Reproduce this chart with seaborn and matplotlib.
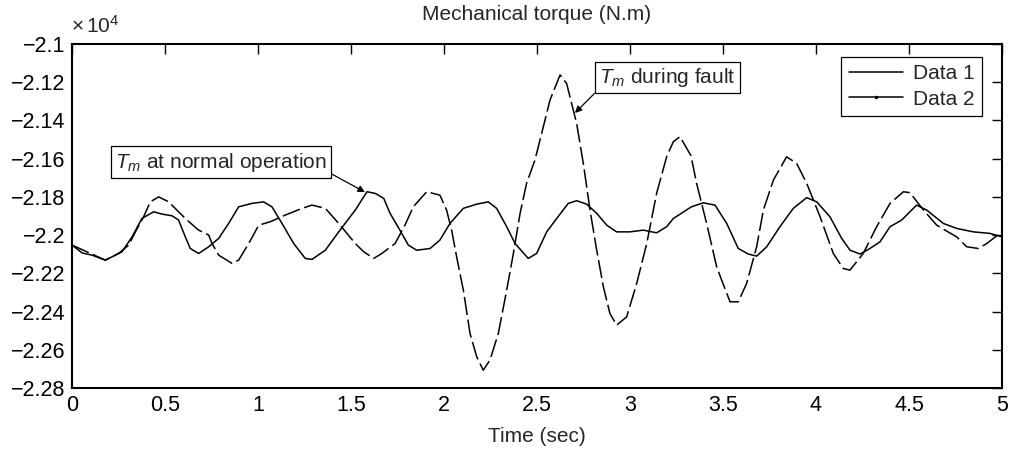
import matplotlib
matplotlib.use("Agg")
import matplotlib.pyplot as plt
from matplotlib.lines import Line2D
from matplotlib.ticker import FuncFormatter, MultipleLocator
import seaborn as sns
import pandas as pd

# ---- Data 1: torque at normal operation (N.m) ----
t1 = [0.000, 0.054, 0.108, 0.179, 0.233, 0.269, 0.323, 0.376, 0.439, 0.484,
      0.538, 0.573, 0.609, 0.636, 0.681, 0.735, 0.789, 0.842, 0.896, 0.968,
      1.030, 1.075, 1.129, 1.192, 1.254, 1.290, 1.362, 1.434, 1.523, 1.586,
      1.631, 1.676, 1.710, 1.763, 1.808, 1.853, 1.925, 1.978, 2.032, 2.104,
      2.176, 2.238, 2.283, 2.337, 2.382, 2.453, 2.498, 2.552, 2.606, 2.668,
      2.713, 2.767, 2.821, 2.875, 2.928, 3.000, 3.072, 3.143, 3.197, 3.233,
      3.330, 3.394, 3.457, 3.520, 3.582, 3.636, 3.681, 3.735, 3.806, 3.878,
      3.950, 4.004, 4.075, 4.138, 4.183, 4.237, 4.290, 4.344, 4.398, 4.461,
      4.541, 4.595, 4.685, 4.756, 4.846, 4.935, 5.000]
y1 = [-22052, -22093, -22105, -22131, -22105, -22087, -22009, -21913, -21878, -21890,
      -21899, -21921, -22009, -22070, -22096, -22061, -22017, -21939, -21852, -21834,
      -21826, -21852, -21939, -22044, -22122, -22127, -22079, -21983, -21869, -21773,
      -21782, -21808, -21886, -21974, -22052, -22079, -22070, -22026, -21939, -21860,
      -21838, -21826, -21860, -21956, -22044, -22122, -22096, -21983, -21913, -21834,
      -21820, -21838, -21886, -21948, -21983, -21983, -21974, -21988, -21956, -21913,
      -21852, -21831, -21843, -21939, -22070, -22099, -22110, -22061, -21956, -21860,
      -21804, -21826, -21904, -22017, -22079, -22099, -22070, -22035, -21956, -21921,
      -21843, -21869, -21939, -21965, -21983, -21991, -22009]

# ---- Data 2: torque during fault (N.m) ----
t2 = [0.000, 0.179, 0.251, 0.305, 0.341, 0.385, 0.421, 0.466, 0.520, 0.573,
      0.618, 0.681, 0.735, 0.753, 0.789, 0.860, 0.896, 0.950, 1.004, 1.066,
      1.147, 1.237, 1.290, 1.362, 1.434, 1.523, 1.568, 1.622, 1.666, 1.737,
      1.790, 1.835, 1.907, 1.978, 2.014, 2.041, 2.068, 2.104, 2.140, 2.176,
      2.211, 2.247, 2.292, 2.337, 2.373, 2.409, 2.444, 2.489, 2.534, 2.570,
      2.624, 2.659, 2.713, 2.749, 2.785, 2.821, 2.857, 2.892, 2.928, 2.982,
      3.036, 3.090, 3.143, 3.197, 3.233, 3.269, 3.328, 3.358, 3.412, 3.466,
      3.493, 3.538, 3.582, 3.627, 3.681, 3.717, 3.771, 3.842, 3.896, 3.950,
      4.022, 4.093, 4.147, 4.183, 4.254, 4.326, 4.398, 4.470, 4.505, 4.578,
      4.649, 4.694, 4.756, 4.810, 4.873, 4.918, 5.000]
y2 = [-22052, -22131, -22096, -22052, -21983, -21904, -21826, -21800, -21826, -21878,
      -21921, -21974, -22000, -22044, -22105, -22148, -22131, -22044, -21948, -21930,
      -21895, -21860, -21843, -21860, -21939, -22044, -22087, -22122, -22096, -22044,
      -21948, -21852, -21773, -21791, -21869, -21974, -22114, -22288, -22515, -22637,
      -22707, -22654, -22515, -22288, -22096, -21886, -21729, -21607, -21433, -21293,
      -21162, -21206, -21415, -21625, -21869, -22079, -22271, -22410, -22471, -22428,
      -22253, -22044, -21782, -21590, -21511, -21485, -21585, -21729, -21939, -22166,
      -22236, -22349, -22349, -22253, -22061, -21869, -21712, -21590, -21625, -21729,
      -21904, -22096, -22175, -22183, -22096, -21956, -21834, -21773, -21778, -21869,
      -21948, -21974, -22009, -22061, -22070, -22044, -21983]

series_labels = ["Data 1", "Data 2"]
title_text = "Mechanical torque (N.m)"
xlabel_text = "Time (sec)"
ann_normal = r"$T_m$ at normal operation"
ann_fault = r"$T_m$ during fault"

sns.set_style("white")
plt.rcParams["font.family"] = ["Liberation Sans", "DejaVu Sans"]
plt.rcParams["mathtext.fontset"] = "custom"
plt.rcParams["mathtext.rm"] = "Liberation Sans"
plt.rcParams["mathtext.it"] = "Liberation Sans:italic"
plt.rcParams["axes.unicode_minus"] = True

fig = plt.figure(figsize=(10.11, 4.5), dpi=100)
ax = fig.add_axes([72 / 1011, 62 / 450, 930 / 1011, 344 / 450])

df1 = pd.DataFrame({"t": t1, "y": y1})
df2 = pd.DataFrame({"t": t2, "y": y2})
sns.lineplot(data=df1, x="t", y="y", ax=ax, color="black", lw=1.1,
             sort=False, estimator=None)
sns.lineplot(data=df2, x="t", y="y", ax=ax, color="black", lw=1.1,
             sort=False, estimator=None, linestyle=(0, (12, 3)))

ax.set_xlim(0, 5)
ax.set_ylim(-22800, -21000)
ax.xaxis.set_major_locator(MultipleLocator(0.5))
ax.yaxis.set_major_locator(MultipleLocator(200))
ax.xaxis.set_major_formatter(FuncFormatter(lambda v, p: f"{v:g}"))
ax.yaxis.set_major_formatter(
    FuncFormatter(lambda v, p: f"{v / 1e4:g}".replace("-", "\u2212")))
ax.tick_params(direction="in", length=7, width=1.0, top=True, right=True,
               labelsize=15.5, pad=5, colors="black")
for s in ax.spines.values():
    s.set_linewidth(1.5)
    s.set_color("black")
    s.set_visible(True)

ax.set_title(title_text, fontsize=15, pad=17.5)
ax.set_xlabel(xlabel_text, fontsize=15, labelpad=8)
ax.set_ylabel("")
ax.text(-0.001, 1.022, r"$\times\,10^4$", transform=ax.transAxes,
        fontsize=15, ha="left", va="bottom")

handles = [Line2D([], [], color="black", lw=1.1),
           Line2D([], [], color="black", lw=1.1, marker=".", markersize=3)]
leg = ax.legend(handles, series_labels, loc="upper right",
                bbox_to_anchor=(0.9785, 0.962), borderaxespad=0,
                fancybox=False, framealpha=1, edgecolor="black",
                fontsize=15, handlelength=2.6, borderpad=0.35,
                labelspacing=0.3, handletextpad=0.5)
leg.get_frame().set_linewidth(0.9)

box = dict(boxstyle="square,pad=0.2", fc="white", ec="black", lw=0.9)
ax.annotate(ann_normal, xy=(1.575, -21775), xytext=(0.80, -21618),
            textcoords="data", ha="center", va="center", fontsize=15,
            bbox=box,
            arrowprops=dict(arrowstyle="-|>", color="black", lw=0.9,
                            mutation_scale=10, relpos=(1.0, 0.1),
                            shrinkA=0, shrinkB=0))
ax.annotate(ann_fault, xy=(2.704, -21361), xytext=(3.20, -21175),
            textcoords="data", ha="center", va="center", fontsize=15,
            bbox=box,
            arrowprops=dict(arrowstyle="-|>", color="black", lw=0.9,
                            mutation_scale=10, relpos=(0.0, 0.0),
                            shrinkA=0, shrinkB=0))

fig.savefig("out.png", dpi=100)
